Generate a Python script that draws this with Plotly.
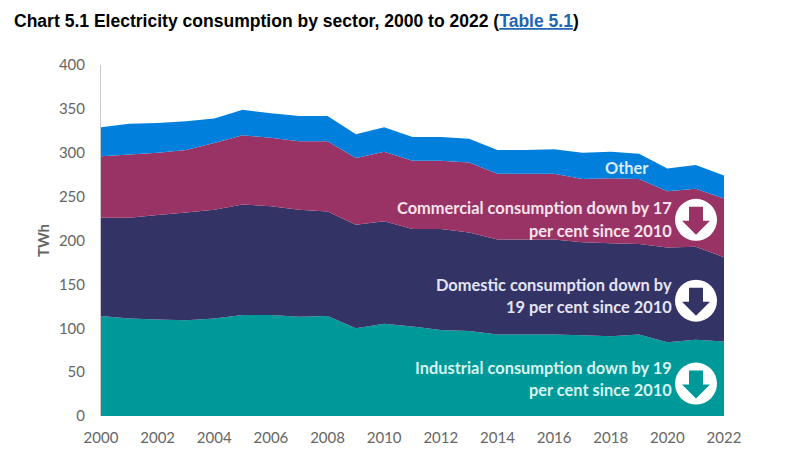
import plotly.graph_objects as go

WIDTH = 800
HEIGHT = 474
# the page body adds an 8px margin, so reference pixels are shifted back by this
PAGE_OFFSET = 8
LEFT, RIGHT, TOP, BOTTOM = 101, 724, 65, 416.5

YEARS = list(range(2000, 2023))
INDUSTRIAL = [114, 111, 110, 109, 111, 115, 115, 113, 114, 100, 105, 102, 98, 97, 93, 93, 93, 92, 91, 93, 84, 87, 85]
DOMESTIC = [112, 115, 119, 123, 124, 126, 124, 122, 119, 118, 117, 111, 115, 112, 108, 108, 108, 106, 106, 103, 108, 106, 96]
COMMERCIAL = [70, 72, 71, 71, 76, 79, 78, 78, 80, 76, 79, 78, 78, 80, 75, 75, 75, 72, 74, 74, 64, 66, 67]
OTHER = [33, 35, 34, 33, 28, 29, 28, 29, 29, 27, 28, 27, 27, 27, 27, 27, 28, 30, 30, 29, 26, 27, 26]

COLOURS = {
    'Industrial': '#009999',
    'Domestic': '#333366',
    'Commercial': '#993366',
    'Other': '#0080dc'
}
LABELS = [
    ('Commercial consumption down by 17', 208, '#f6e3ec'),
    ('per cent since 2010', 231, '#f6e3ec'),
    ('Domestic consumption down by', 285, '#e4e4f4'),
    ('19 per cent since 2010', 307, '#e4e4f4'),
    ('Industrial consumption down by 19', 368, '#d8f4f2'),
    ('per cent since 2010', 390, '#d8f4f2')
]
ARROWS = [('Commercial', 220), ('Domestic', 301), ('Industrial', 384)]
ARROW_PATH = 'M -7,13 L 7,13 L 7,-1 L 14,-1 L 0,-15 L -14,-1 L -7,-1 Z'


def to_paper(px, py):
    return (px - LEFT) / (RIGHT - LEFT), (BOTTOM - py) / (BOTTOM - TOP)


fig = go.Figure()
for name, values in [('Industrial', INDUSTRIAL), ('Domestic', DOMESTIC), ('Commercial', COMMERCIAL), ('Other', OTHER)]:
    fig.add_trace(go.Scatter(
        x=YEARS,
        y=values,
        name=name,
        mode='none',
        stackgroup='one',
        fillcolor=COLOURS[name]
    ))

for name, py in ARROWS:
    ax, ay = to_paper(696, py)
    fig.add_shape(type='circle', xref='paper', yref='paper', xsizemode='pixel', ysizemode='pixel',
                  xanchor=ax, yanchor=ay, x0=-21, x1=21, y0=-21, y1=21,
                  fillcolor='white', line_width=0)
    fig.add_shape(type='path', xref='paper', yref='paper', xsizemode='pixel', ysizemode='pixel',
                  xanchor=ax, yanchor=ay, path=ARROW_PATH,
                  fillcolor=COLOURS[name], line_width=0)

for text, py, colour in LABELS:
    ax, ay = to_paper(674, py)
    fig.add_annotation(text=text, xref='paper', yref='paper', x=ax, y=ay, xanchor='right', yanchor='middle',
                       align='right', showarrow=False,
                       font=dict(family='Lato', size=16.4, color=colour, weight='bold'))

ax, ay = to_paper(627, 168)
fig.add_annotation(text='Other', xref='paper', yref='paper', x=ax, y=ay, xanchor='center', yanchor='middle',
                   showarrow=False, font=dict(family='Lato', size=16.4, color='#d9eefb', weight='bold'))

ax, ay = to_paper(12, 21)
fig.add_annotation(
    text='Chart 5.1 Electricity consumption by sector, 2000 to 2022 '
         '(<a href="#" style="color:#1f66b0"><u>Table 5.1</u></a>)',
    xref='paper', yref='paper', x=ax, y=ay, xanchor='left', yanchor='middle', showarrow=False,
    font=dict(family='Liberation Sans', size=17.55, color='black', weight='bold'))

fig.update_layout(
    width=WIDTH,
    height=HEIGHT,
    margin=dict(l=LEFT - PAGE_OFFSET, r=WIDTH - RIGHT + PAGE_OFFSET, t=TOP - PAGE_OFFSET,
                b=HEIGHT - BOTTOM + PAGE_OFFSET, autoexpand=False),
    plot_bgcolor='white',
    paper_bgcolor='white',
    showlegend=False,
    font=dict(family='Lato', size=15, color='#666666')
)
fig.update_xaxes(range=[2000, 2022], tickvals=YEARS[::2], ticks='outside', ticklen=8, tickcolor='white',
                 showgrid=False, zeroline=False, showline=False, tickfont=dict(size=15, color='#666666'))
fig.update_yaxes(range=[0, 400], tickvals=list(range(0, 401, 50)), ticks='outside', ticklen=12, tickcolor='white',
                 showgrid=False, zeroline=False, showline=True, linecolor='#c8c8c8', linewidth=1,
                 title=dict(text='<b>TWh</b>', font=dict(size=15, color='#666666'), standoff=5),
                 tickfont=dict(size=15, color='#666666'))

fig.write_html("out.html")
